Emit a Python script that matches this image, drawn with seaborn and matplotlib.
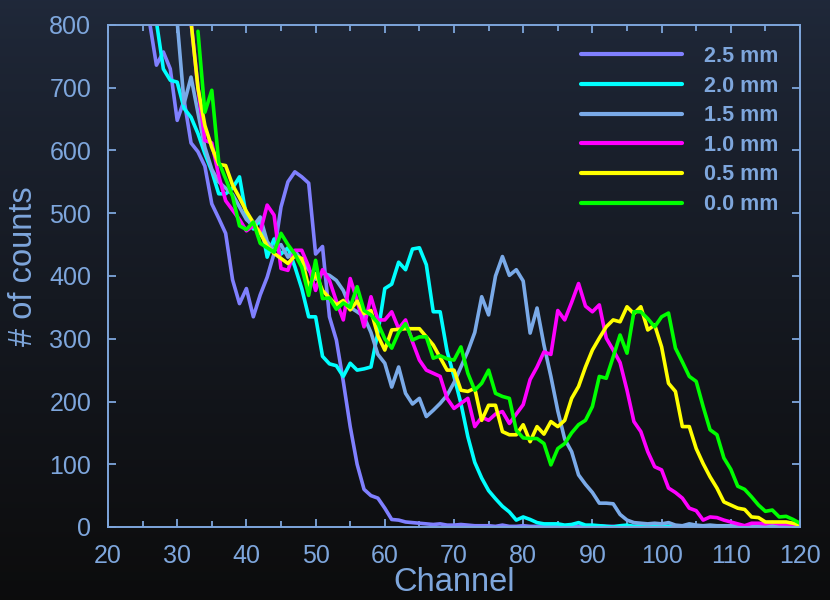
import numpy as np
import pandas as pd
import matplotlib
matplotlib.use("Agg")
import matplotlib.pyplot as plt
import seaborn as sns

# Pulse-height spectra: counts per channel for each absorber thickness
thickness_labels = ["2.5 mm", "2.0 mm", "1.5 mm", "1.0 mm", "0.5 mm", "0.0 mm"]
line_colors = ["#8080ff", "#00ffff", "#7aaae8", "#ff00ff", "#ffff00", "#00ff00"]

start_25 = 26
counts_25 = [805, 736, 757, 730, 648, 680, 612, 598, 575, 515, 492, 468, 394, 356, 380,
             335, 370, 398, 436, 510, 550, 566, 558, 548, 435, 447, 335, 298, 232, 160,
             100, 60, 50, 46, 30, 12, 11, 8, 7, 6, 5, 4, 5, 3, 3, 4, 3, 2, 2, 2,
             1, 3, 1, 1, 2, 1, 1, 2, 1, 1, 1, 2, 1, 1, 1, 2, 1, 1, 1, 1,
             1, 2, 1, 1, 1, 1, 1, 1, 1, 1, 1, 1, 1, 1, 1, 1, 1, 1, 1, 1,
             1, 1, 1, 1, 1]

start_20 = 27
counts_20 = [805, 730, 712, 709, 667, 653, 627, 595, 567, 531, 531, 540, 558, 495, 475,
             490, 430, 459, 435, 445, 415, 380, 335, 335, 272, 260, 257, 240, 261, 250,
             252, 255, 310, 380, 387, 422, 410, 443, 445, 418, 343, 343, 280, 240, 197,
             144, 103, 78, 58, 45, 33, 24, 11, 16, 12, 7, 5, 5, 5, 3,
             4, 7, 3, 3, 2, 1, 0, 2, 3, 1, 2, 1, 1, 1, 1, 1, 1, 1, 1, 1,
             1, 1, 1, 1, 1, 1, 1, 1, 1, 1, 1, 1, 1, 1]

start_15 = 30
counts_15 = [805, 675, 717, 660, 605, 570, 550, 540, 530, 510, 490, 480, 494, 455, 440,
             450, 430, 440, 425, 410, 395, 405, 401, 393, 377, 350, 343, 335, 310, 275,
             261, 223, 255, 213, 196, 205, 176, 186, 197, 210, 230, 255, 280, 310, 367,
             338, 400, 431, 401, 410, 392, 309, 349, 290, 240, 185, 140, 120, 83, 68,
             55, 38, 38, 37, 20, 11, 7, 6, 5, 6, 5, 7, 3, 2, 5, 3, 2, 3, 2, 2,
             2, 2, 2, 2, 2, 2, 2, 2, 2, 2, 2]

start_10 = 32
counts_10 = [805, 700, 616, 612, 560, 520, 505, 490, 472, 480, 470, 513, 497, 412, 409,
             441, 441, 415, 377, 410, 393, 360, 330, 396, 361, 319, 367, 330, 330, 343,
             316, 330, 295, 266, 250, 245, 240, 205, 189, 197, 205, 160, 175, 170, 180,
             184, 165, 180, 195, 235, 255, 279, 275, 345, 330, 358, 388, 352, 343, 354,
             301, 282, 262, 218, 168, 152, 120, 96, 91, 62, 55, 46, 30, 26, 11,
             16, 15, 11, 8, 5, 2, 6, 6, 5, 7, 5, 5, 4, 3]

start_05 = 32
counts_05 = [805, 700, 640, 605, 578, 576, 545, 525, 503, 485, 468, 448, 436, 428, 420,
             432, 428, 382, 404, 377, 365, 354, 361, 346, 360, 340, 345, 305, 282, 314,
             315, 316, 316, 316, 303, 290, 270, 250, 250, 218, 216, 221, 170, 194, 194,
             152, 147, 147, 163, 136, 160, 148, 168, 160, 170, 205, 224, 255, 282, 301,
             319, 330, 327, 351, 340, 351, 314, 322, 287, 229, 216, 160, 160, 125, 101,
             80, 62, 40, 35, 30, 28, 16, 15, 8, 8, 8, 8, 6, 3]

start_00 = 33
counts_00 = [790, 661, 696, 582, 555, 527, 480, 474, 486, 452, 445, 438, 468, 450, 435,
             414, 369, 425, 364, 365, 347, 357, 350, 383, 345, 338, 325, 300, 285, 310,
             324, 298, 303, 303, 269, 273, 268, 266, 287, 245, 218, 229, 250, 213, 208,
             205, 154, 142, 141, 141, 133, 99, 125, 133, 150, 163, 170, 192, 240, 237,
             271, 306, 277, 343, 343, 332, 319, 335, 341, 285, 263, 240, 232, 192, 155,
             147, 110, 92, 65, 60, 48, 35, 25, 27, 16, 17, 12, 6]

series = [(start_25, counts_25), (start_20, counts_20), (start_15, counts_15),
          (start_10, counts_10), (start_05, counts_05), (start_00, counts_00)]

frames = []
for label, (start, vals) in zip(thickness_labels, series):
    ch = np.arange(start, start + len(vals))
    frames.append(pd.DataFrame({"Channel": ch, "counts": vals, "thickness": label}))
df = pd.concat(frames, ignore_index=True)
df = df[df["Channel"] <= 120]

sns.set_theme(style="ticks")
axis_blue = "#7ea6dc"
plt.rcParams["font.family"] = ["Liberation Sans", "DejaVu Sans"]

fig = plt.figure(figsize=(8.3, 6.0), dpi=100)

# dark navy-to-black backdrop
bg = fig.add_axes([0, 0, 1, 1], zorder=-10)
t = np.linspace(0, 1, 600)[:, None] ** 0.85
top = np.array([0.125, 0.160, 0.228])
bottom = np.array([0.048, 0.048, 0.050])
img = (top[None, None, :] * (1 - t[:, :, None]) + bottom[None, None, :] * t[:, :, None])
img = np.repeat(img, 10, axis=1)
bg.imshow(img, aspect="auto", extent=[0, 1, 0, 1], origin="upper")
bg.set_axis_off()

ax = fig.add_axes([108 / 830, 1 - 527 / 600, 692 / 830, 502 / 600])
ax.set_facecolor("none")

sns.lineplot(data=df, x="Channel", y="counts", hue="thickness",
             hue_order=thickness_labels, palette=line_colors,
             linewidth=2.6, ax=ax, sort=True, estimator=None)

ax.set_xlim(20, 120)
ax.set_ylim(0, 800)
ax.set_xticks(np.arange(20, 121, 10))
ax.set_xticks(np.arange(25, 120, 10), minor=True)
ax.set_yticks(np.arange(0, 801, 100))

for sp in ax.spines.values():
    sp.set_visible(True)
    sp.set_color(axis_blue)
    sp.set_linewidth(1.4)

ax.tick_params(axis="both", which="both", direction="in", colors=axis_blue,
               top=True, right=True, labelsize=18)
ax.tick_params(axis="x", which="major", length=6, width=1.3, pad=12)
ax.tick_params(axis="x", which="minor", length=4, width=1.3)
ax.tick_params(axis="y", which="major", length=6, width=1.3, pad=12)

ax.set_xlabel("Channel", fontsize=23.5, color=axis_blue)
ax.set_ylabel("# of counts", fontsize=23.5, color=axis_blue)
ax.xaxis.set_label_coords(0.5, -0.080)
ax.yaxis.set_label_coords(-0.100, 0.52)

handles, labels = ax.get_legend_handles_labels()
for h in handles:
    h.set_linewidth(3.0)
    h.set_solid_capstyle("round")
leg = ax.legend(handles, labels, loc="upper left",
                bbox_to_anchor=(581 / 830, 1 - 46 / 600), bbox_transform=fig.transFigure,
                frameon=False, handlelength=4.7, handletextpad=1.0,
                labelspacing=0.40, borderpad=0, borderaxespad=0,
                prop={"weight": "bold", "size": 15.5})
for txt in leg.get_texts():
    txt.set_color(axis_blue)

fig.savefig("out.png", dpi=100)
